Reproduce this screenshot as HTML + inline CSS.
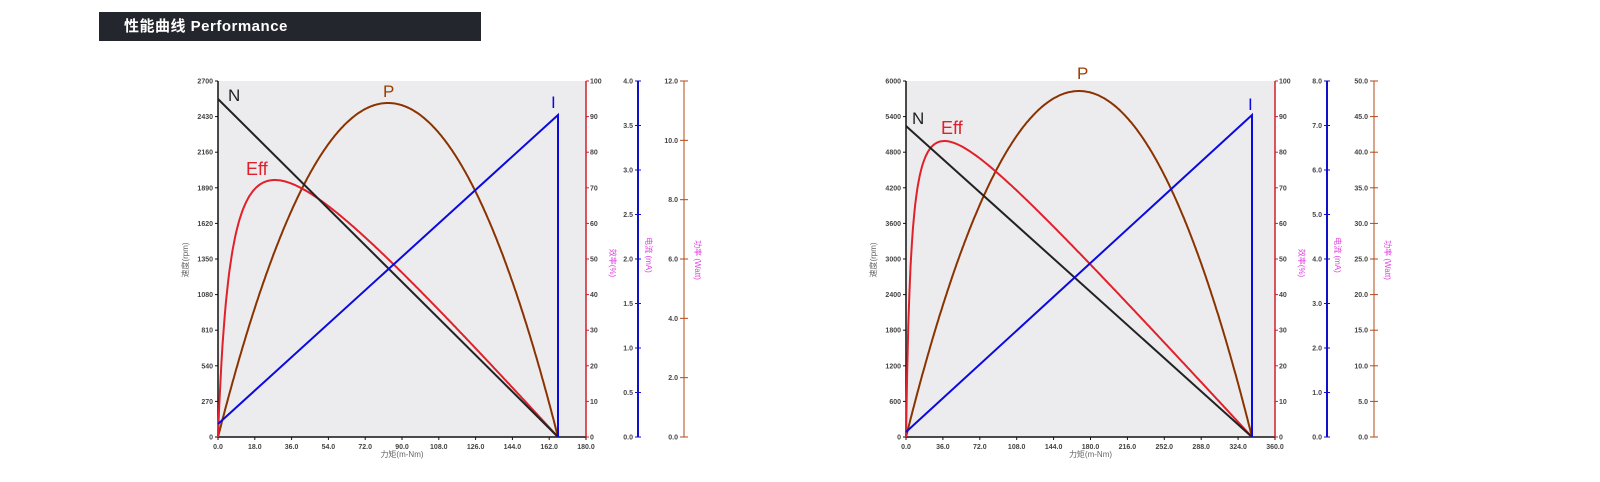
<!DOCTYPE html>
<html><head><meta charset="utf-8"><style>
body{margin:0;background:#fff;width:1600px;height:482px;overflow:hidden;font-family:"Liberation Sans","Noto Sans CJK SC",sans-serif}
#bar{position:absolute;left:99px;top:12px;width:382px;height:29px;background:#23272d;color:#fff;font-weight:bold;font-size:15px;line-height:29px;box-sizing:border-box;padding-left:25px;letter-spacing:0.5px}
svg{position:absolute;left:0;top:0}
</style></head><body>
<div id="bar">性能曲线 Performance</div>
<svg id="s" width="1600" height="482" xmlns="http://www.w3.org/2000/svg" font-family="Liberation Sans, Noto Sans CJK SC, sans-serif"></svg>
<script>
const s=document.getElementById('s');let h='';
function chart(c){
 const L=c.L,R=c.R,T=81,B=437,W=R-L,H=B-T;
 h+=`<rect x="${L}" y="${T}" width="${W}" height="${H}" fill="#ececee"/>`;
 h+=`<line x1="${L}" y1="${T}" x2="${L}" y2="${B}" stroke="#111" stroke-width="1.5"/>`;
 h+=`<line x1="${L}" y1="${B}" x2="${R}" y2="${B}" stroke="#111" stroke-width="1.5"/>`;
 for(let i=0;i<=10;i++){let y=B-H*i/10;h+=`<line x1="${L-3}" y1="${y}" x2="${L}" y2="${y}" stroke="#111"/><text x="${L-5}" y="${y+2.5}" font-size="7" font-weight="bold" fill="#444" text-anchor="end">${c.ly[i]}</text>`;
  let x=L+W*i/10;h+=`<line x1="${x}" y1="${B}" x2="${x}" y2="${B+3}" stroke="#111"/><text x="${x}" y="${B+12}" font-size="7" font-weight="bold" fill="#444" text-anchor="middle">${(c.xs*i).toFixed(1)}</text>`;}
 h+=`<line x1="${R}" y1="${T}" x2="${R}" y2="${B}" stroke="#d0202a" stroke-width="1.5"/>`;
 for(let i=0;i<=10;i++){let y=B-H*i/10;h+=`<line x1="${R}" y1="${y}" x2="${R+3}" y2="${y}" stroke="#d0202a"/><text x="${R+4}" y="${y+2.5}" font-size="7" font-weight="bold" fill="#444">${i*10}</text>`;}
 let bx=c.bx;h+=`<line x1="${bx}" y1="${T}" x2="${bx}" y2="${B}" stroke="#1010c8" stroke-width="2"/>`;
 for(let i=0;i<=c.bn;i++){let y=B-H*i/c.bn;h+=`<line x1="${bx-3}" y1="${y}" x2="${bx+3}" y2="${y}" stroke="#1010c8"/><text x="${bx-5}" y="${y+2.5}" font-size="7" font-weight="bold" fill="#444" text-anchor="end">${(c.bs*i).toFixed(1)}</text>`;}
 let rx=c.rx;h+=`<line x1="${rx}" y1="${T}" x2="${rx}" y2="${B}" stroke="#b04a1a" stroke-width="1"/>`;
 for(let i=0;i<=c.rn;i++){let y=B-H*i/c.rn;h+=`<line x1="${rx-4}" y1="${y}" x2="${rx+4}" y2="${y}" stroke="#b04a1a"/><text x="${rx-6}" y="${y+2.5}" font-size="7" font-weight="bold" fill="#444" text-anchor="end">${(c.rs*i).toFixed(1)}</text>`;}
 h+=`<text transform="translate(${L-30},260) rotate(-90)" font-size="8" fill="#666" text-anchor="middle">速度(rpm)</text>`;
 h+=`<text x="${L+W/2}" y="457" font-size="8" fill="#666" text-anchor="middle">力矩(m-Nm)</text>`;
 h+=`<text transform="translate(${R+24},263) rotate(90)" font-size="8" fill="#e040e0" text-anchor="middle">效率(%)</text>`;
 h+=`<text transform="translate(${bx+8},255) rotate(90)" font-size="8" fill="#e040e0" text-anchor="middle">电流 (mA)</text>`;
 h+=`<text transform="translate(${rx+11},260) rotate(90)" font-size="8" fill="#e040e0" text-anchor="middle">功率 (Watt)</text>`;
 const S=c.S,sw=S-L;
 let p='',e='';const a=c.a;
 let tp=Math.sqrt(a*a+a)-a, ef=t=>t*(1-t)/(a+t), E=ef(tp);
 for(let i=0;i<=300;i++){let t=i/300,x=L+sw*t;p+=(i?'L':'M')+x.toFixed(1)+','+(B-c.ph*4*t*(1-t)).toFixed(1);
  e+=(i?'L':'M')+x.toFixed(1)+','+(B-c.ep*ef(t)/E).toFixed(1);}
 h+=`<path d="${p}" fill="none" stroke="#8b3300" stroke-width="2"/>`;
 h+=`<path d="${e}" fill="none" stroke="#e0202a" stroke-width="2"/>`;
 h+=`<line x1="${L}" y1="${c.n0}" x2="${S}" y2="${B}" stroke="#222" stroke-width="2"/>`;
 h+=`<polyline points="${L},${c.i0} ${S},${c.is} ${S},${B}" fill="none" stroke="#0a0ae0" stroke-width="2"/>`;
 h+=`<text x="${c.lb.N[0]}" y="${c.lb.N[1]}" font-size="17" fill="#222">N</text>`;
 h+=`<text x="${c.lb.E[0]}" y="${c.lb.E[1]}" font-size="18" fill="#e0202a">Eff</text>`;
 h+=`<text x="${c.lb.P[0]}" y="${c.lb.P[1]}" font-size="17" fill="#9b3d00">P</text>`;
 h+=`<text x="${c.lb.I[0]}" y="${c.lb.I[1]}" font-size="17" fill="#0a0ae0">I</text>`;
}
chart({L:218,R:586,S:558,bx:638,rx:684,ly:[0,270,540,810,1080,1350,1620,1890,2160,2430,2700],xs:18,bn:8,bs:0.5,rn:6,rs:2,
 a:0.042,ph:334,ep:257,n0:99,i0:424,is:115,lb:{N:[228,101],E:[246,175],P:[383,97],I:[551,108]}});
chart({L:906,R:1275,S:1252,bx:1327,rx:1374,ly:[0,600,1200,1800,2400,3000,3600,4200,4800,5400,6000],xs:36,bn:8,bs:1,rn:10,rs:5,
 a:0.0158,ph:346,ep:296,n0:126,i0:432,is:115,lb:{N:[912,124],E:[941,134],P:[1077,79],I:[1248,110]}});
s.innerHTML=h;
</script>
</body></html>
